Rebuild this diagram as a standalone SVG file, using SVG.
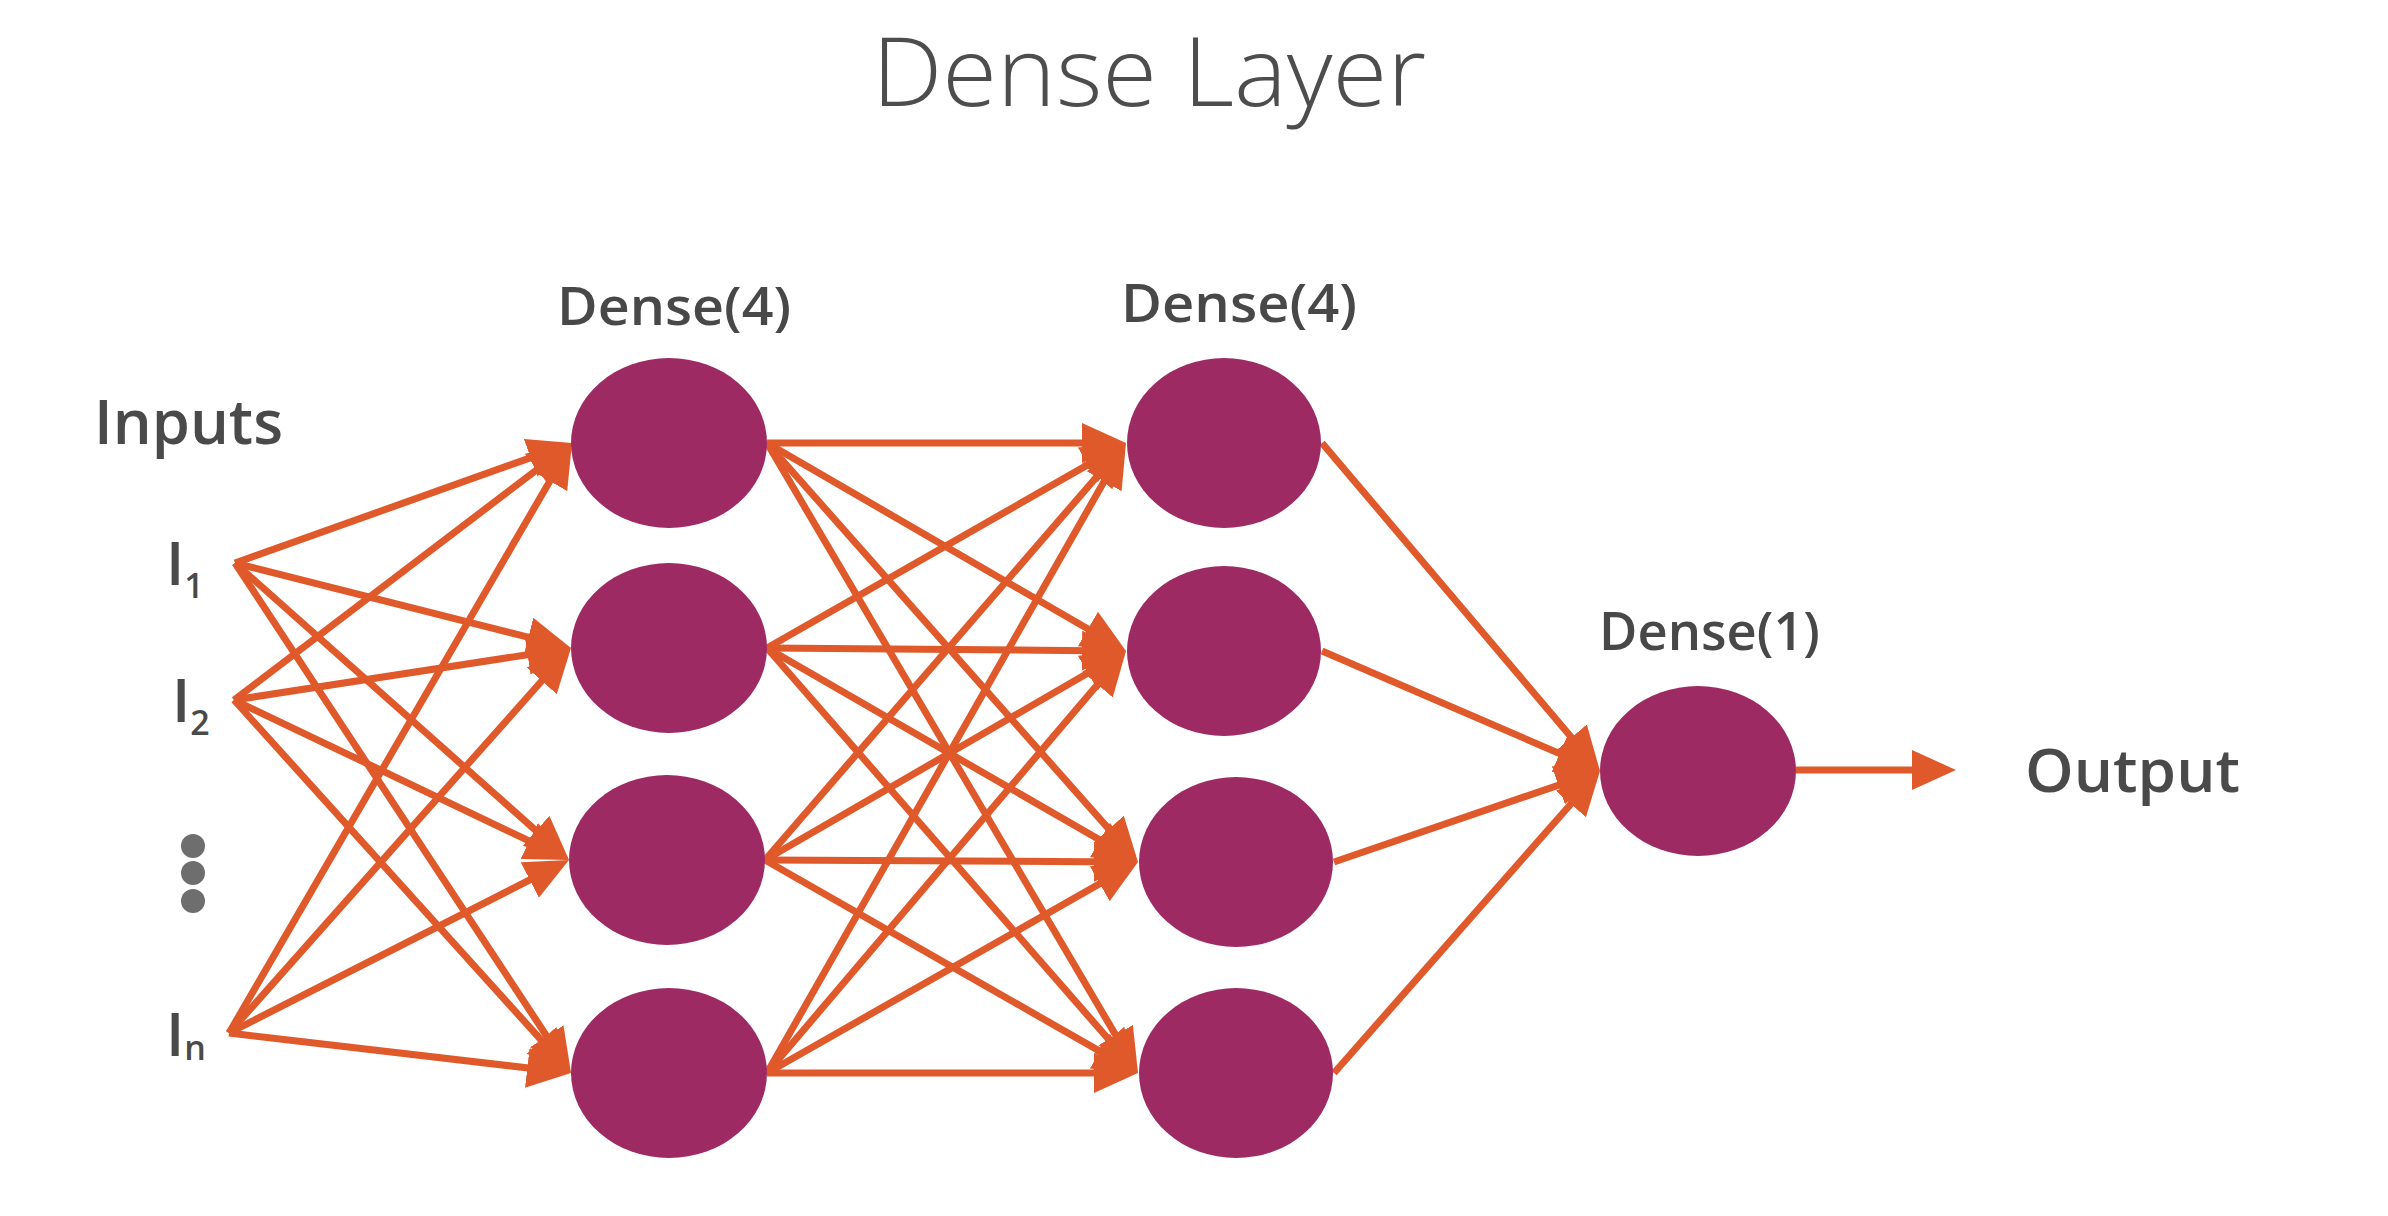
<svg xmlns="http://www.w3.org/2000/svg" width="2388" height="1216" viewBox="0 0 2388 1216">
<style>
.title{font-family:"Open Sans","Liberation Sans",sans-serif;font-weight:300;font-size:96px;fill:#4d4d4d}
.lbl{font-family:"Open Sans","Liberation Sans",sans-serif;font-weight:600;fill:#484848}
.io{font-family:"Open Sans","Liberation Sans",sans-serif;font-weight:600;fill:#4a4a4a}
.sym{font-family:"Open Sans","Liberation Sans",sans-serif;font-weight:600;fill:#4a4a4a}
.node{fill:#9e2a63}
.conn path{fill:none;stroke:#e0592a;stroke-width:7;stroke-dasharray:97 3;marker-end:url(#ah)}
.dot{fill:#6e6e6e}
</style>
<defs>
<marker id="ah" markerUnits="userSpaceOnUse" viewBox="0 0 44 42" refX="44" refY="21" markerWidth="44" markerHeight="42" orient="auto">
<path d="M0,1 L44,21 L0,41 Z" fill="#e0592a"/>
</marker>
</defs>
<rect width="2388" height="1216" fill="#ffffff"/>
<text class="title" x="872" y="106" textLength="554" lengthAdjust="spacingAndGlyphs">Dense Layer</text>

<g id="inputs">
<text class="io" x="94" y="444" font-size="62" textLength="189" lengthAdjust="spacingAndGlyphs">Inputs</text>
<text class="sym" x="166" y="585" font-size="60">I<tspan font-size="34" y="598">1</tspan></text>
<text class="sym" x="172" y="722" font-size="60">I<tspan font-size="34" y="735">2</tspan></text>
<circle class="dot" cx="193" cy="846" r="12"/>
<circle class="dot" cx="193" cy="873" r="12"/>
<circle class="dot" cx="193" cy="901" r="12"/>
<text class="sym" x="166" y="1056" font-size="60">I<tspan font-size="34" y="1060">n</tspan></text>
</g>

<g class="conn" id="connectors">
<path pathLength="100" d="M235,563 L572,443"/>
<path pathLength="100" d="M235,563 L571,648"/>
<path pathLength="100" d="M235,563 L569,860"/>
<path pathLength="100" d="M235,563 L571,1073"/>
<path pathLength="100" d="M234,700 L572,443"/>
<path pathLength="100" d="M234,700 L571,648"/>
<path pathLength="100" d="M234,700 L569,860"/>
<path pathLength="100" d="M234,700 L571,1073"/>
<path pathLength="100" d="M229,1033 L572,443"/>
<path pathLength="100" d="M229,1033 L571,648"/>
<path pathLength="100" d="M229,1033 L569,860"/>
<path pathLength="100" d="M229,1033 L571,1073"/>

<path pathLength="100" d="M767,443 L1126,443"/>
<path pathLength="100" d="M767,443 L1126,651"/>
<path pathLength="100" d="M767,443 L1138,862"/>
<path pathLength="100" d="M767,443 L1138,1073"/>
<path pathLength="100" d="M767,648 L1126,443"/>
<path pathLength="100" d="M767,648 L1126,651"/>
<path pathLength="100" d="M767,648 L1138,862"/>
<path pathLength="100" d="M767,648 L1138,1073"/>
<path pathLength="100" d="M765,860 L1126,443"/>
<path pathLength="100" d="M765,860 L1126,651"/>
<path pathLength="100" d="M765,860 L1138,862"/>
<path pathLength="100" d="M765,860 L1138,1073"/>
<path pathLength="100" d="M767,1073 L1126,443"/>
<path pathLength="100" d="M767,1073 L1126,651"/>
<path pathLength="100" d="M767,1073 L1138,862"/>
<path pathLength="100" d="M767,1073 L1138,1073"/>

<path pathLength="100" d="M1322,443 L1600,771"/>
<path pathLength="100" d="M1322,651 L1600,771"/>
<path pathLength="100" d="M1334,862 L1600,771"/>
<path pathLength="100" d="M1334,1073 L1600,771"/>

<path pathLength="100" style="stroke-dasharray:86 14" d="M1796,770 L1956,770"/>
</g>

<g id="layer1">
<text class="lbl" x="557" y="325" font-size="52" textLength="234" lengthAdjust="spacingAndGlyphs">Dense(4)</text>
<ellipse id="l1n1" class="node" cx="669" cy="443" rx="98" ry="85"/>
<ellipse id="l1n2" class="node" cx="669" cy="648" rx="98" ry="85"/>
<ellipse id="l1n3" class="node" cx="667" cy="860" rx="98" ry="85"/>
<ellipse id="l1n4" class="node" cx="669" cy="1073" rx="98" ry="85"/>
</g>
<g id="layer2">
<text class="lbl" x="1121" y="322" font-size="52" textLength="236" lengthAdjust="spacingAndGlyphs">Dense(4)</text>
<ellipse id="l2n1" class="node" cx="1224" cy="443" rx="97" ry="85"/>
<ellipse id="l2n2" class="node" cx="1224" cy="651" rx="97" ry="85"/>
<ellipse id="l2n3" class="node" cx="1236" cy="862" rx="97" ry="85"/>
<ellipse id="l2n4" class="node" cx="1236" cy="1073" rx="97" ry="85"/>
</g>
<g id="layer3">
<text class="lbl" x="1599" y="650" font-size="52" textLength="221" lengthAdjust="spacingAndGlyphs">Dense(1)</text>
<ellipse id="l3n1" class="node" cx="1698" cy="771" rx="98" ry="85"/>
</g>
<g id="output">
<text class="io" x="2025" y="792" font-size="60" textLength="215" lengthAdjust="spacingAndGlyphs">Output</text>
</g>
</svg>
